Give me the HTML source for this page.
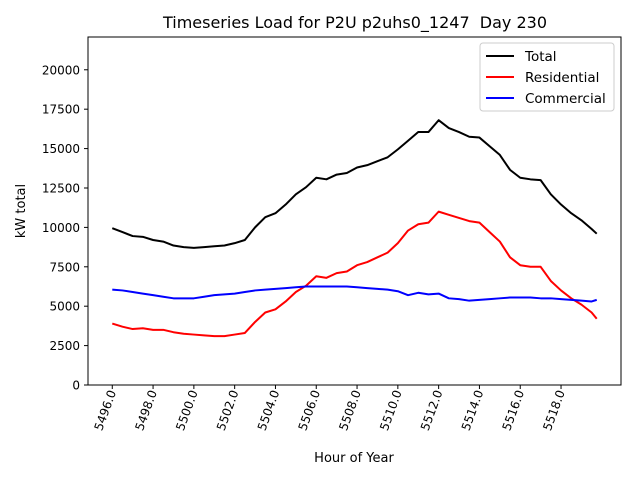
<!DOCTYPE html>
<html><head><meta charset="utf-8"><style>
body{margin:0;background:#fff}
svg text{font-family:"DejaVu Sans","Liberation Sans",sans-serif;fill:#000}
</style></head><body>
<svg id="c" width="640" height="480">
<rect width="640" height="480" fill="#fff"/>
<text x="355" y="28" font-size="16" text-anchor="middle" style="white-space:pre">Timeseries Load for P2U p2uhs0_1247  Day 230</text>
<g id="plot"></g>
<rect x="88" y="37" width="533" height="348" fill="none" stroke="#000" stroke-width="1"/>
<text x="354" y="462" font-size="13" text-anchor="middle">Hour of Year</text>
<text transform="translate(25,211) rotate(-90)" font-size="13" text-anchor="middle">kW total</text>
<g>
<rect x="480" y="43" width="134" height="68" rx="3" fill="#fff" stroke="#ccc"/>
</g>
</svg>
<script>
const hours=[5496,5496.5,5497,5497.5,5498,5498.5,5499,5499.5,5500,5500.5,5501,5501.5,5502,5502.5,5503,5503.5,5504,5504.5,5505,5505.5,5506,5506.5,5507,5507.5,5508,5508.5,5509,5509.5,5510,5510.5,5511,5511.5,5512,5512.5,5513,5513.5,5514,5514.5,5515,5515.5,5516,5516.5,5517,5517.5,5518,5518.5,5519,5519.5,5519.75];
const totalLoad=[9950,9700,9450,9400,9200,9100,8850,8750,8700,8750,8800,8850,9000,9200,10000,10650,10900,11450,12100,12550,13150,13050,13350,13450,13800,13950,14200,14450,14950,15500,16050,16050,16800,16300,16050,15750,15700,15150,14600,13650,13150,13050,13000,12100,11450,10900,10450,9900,9600];
const residential=[3900,3700,3550,3600,3500,3500,3350,3250,3200,3150,3100,3100,3200,3300,4000,4600,4800,5300,5900,6300,6900,6800,7100,7200,7600,7800,8100,8400,9000,9800,10200,10300,11000,10800,10600,10400,10300,9700,9100,8100,7600,7500,7500,6600,6000,5500,5100,4600,4200];
const commercial=[6050,6000,5900,5800,5700,5600,5500,5500,5500,5600,5700,5750,5800,5900,6000,6050,6100,6150,6200,6250,6250,6250,6250,6250,6200,6150,6100,6050,5950,5700,5850,5750,5800,5500,5450,5350,5400,5450,5500,5550,5550,5550,5500,5500,5450,5400,5350,5300,5400];
const xTicks=[5496,5498,5500,5502,5504,5506,5508,5510,5512,5514,5516,5518];
const yTicks=[0,2500,5000,7500,10000,12500,15000,17500,20000];
const seriesNames=["Total","Residential","Commercial"];
const NS="http://www.w3.org/2000/svg";
const X0=88,X1=621,Y0=385,Y1=37,XMIN=5494.81,XMAX=5520.94,YMIN=0,YMAX=22080;
const sx=v=>X0+(v-XMIN)/(XMAX-XMIN)*(X1-X0);
const sy=v=>Y0-(v-YMIN)/(YMAX-YMIN)*(Y0-Y1);
const svg=document.getElementById('c'),plot=document.getElementById('plot');
function mk(t,a,p){const e=document.createElementNS(NS,t);for(const k in a)e.setAttribute(k,a[k]);(p||svg).appendChild(e);return e;}
xTicks.forEach(t=>{
 const x=sx(t);
 const l=mk('line',{x1:x,x2:x,y1:385,y2:389,stroke:'#000'});
 
 
 const tx=mk('text',{transform:`translate(${x+4},${392}) rotate(-70)`,'font-size':12,'text-anchor':'end'});
 tx.textContent=t.toFixed(1);
 
 
});
yTicks.forEach(t=>{
 const y=sy(t);
 const l=mk('line',{x1:84,x2:88,y1:y,y2:y,stroke:'#000'});
 
 
 const tx=mk('text',{x:80,y:y+4.5,'font-size':12,'text-anchor':'end'});
 tx.textContent=t;
 
 
});
const colors=['#000','#f00','#00f'];
[totalLoad,residential,commercial].forEach((s,i)=>{
 const p=mk('polyline',{points:s.map((v,j)=>sx(hours[j])+','+sy(v)).join(' '),fill:'none',stroke:colors[i],'stroke-width':2,'stroke-linejoin':'round'},plot);
 
 
 const ly=56+i*21;
 const ll=mk('line',{x1:486,x2:514,y1:ly,y2:ly,stroke:colors[i],'stroke-width':2});
 
 
 const lt=mk('text',{x:525,y:ly+5,'font-size':13.5});
 lt.textContent=seriesNames[i];
 
 
});
</script>
</body></html>
